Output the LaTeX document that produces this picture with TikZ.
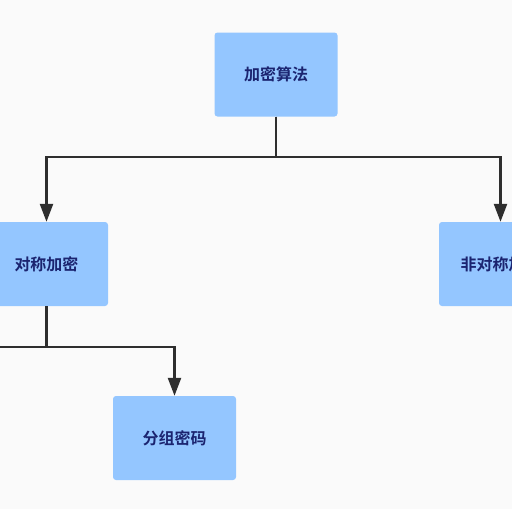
\documentclass[tikz,border=0pt]{standalone}
\usepackage{fontspec}
\newfontfamily\cjk{Noto Sans CJK SC}[BoldFont={Noto Sans CJK SC Bold}]
\usetikzlibrary{arrows.meta}
\definecolor{boxfill}{HTML}{94C6FF}
\definecolor{boxtext}{HTML}{1B2470}
\definecolor{linec}{HTML}{2E2E2E}
\definecolor{bgc}{HTML}{FAFAFA}
\tikzset{
  box/.style={draw=none,fill=boxfill,rounded corners=3pt,minimum width=123pt,minimum height=84pt,inner sep=0pt,
    font=\cjk\bfseries\fontsize{16pt}{18pt}\selectfont,text=boxtext},
  conn/.style={draw=linec,line width=2.4pt},
  arr/.style={conn,-{Triangle[length=18pt,width=13pt]}}
}
\begin{document}
\begin{tikzpicture}[x=1pt,y=-1pt]
\fill[bgc] (0,0) rectangle (512,509);
\useasboundingbox (0,0) rectangle (512,509);
\node[box] (top) at (276,74.5) {加密算法};
\node[box] (left) at (46.5,264) {对称加密};
\node[box] (right) at (500.5,264) {非对称加密};
\node[box] (bottom) at (174.5,438) {分组密码};
\coordinate (lend) at (0,347);
\draw[arr] (top.south) -- ++(0,40.5) -| (left.north);
\draw[arr] (top.south) -- ++(0,40.5) -| (right.north);
\draw[conn] (left.south) |- (lend);
\draw[arr] (left.south) -- ++(0,41) -| (bottom.north);
\end{tikzpicture}
\end{document}
